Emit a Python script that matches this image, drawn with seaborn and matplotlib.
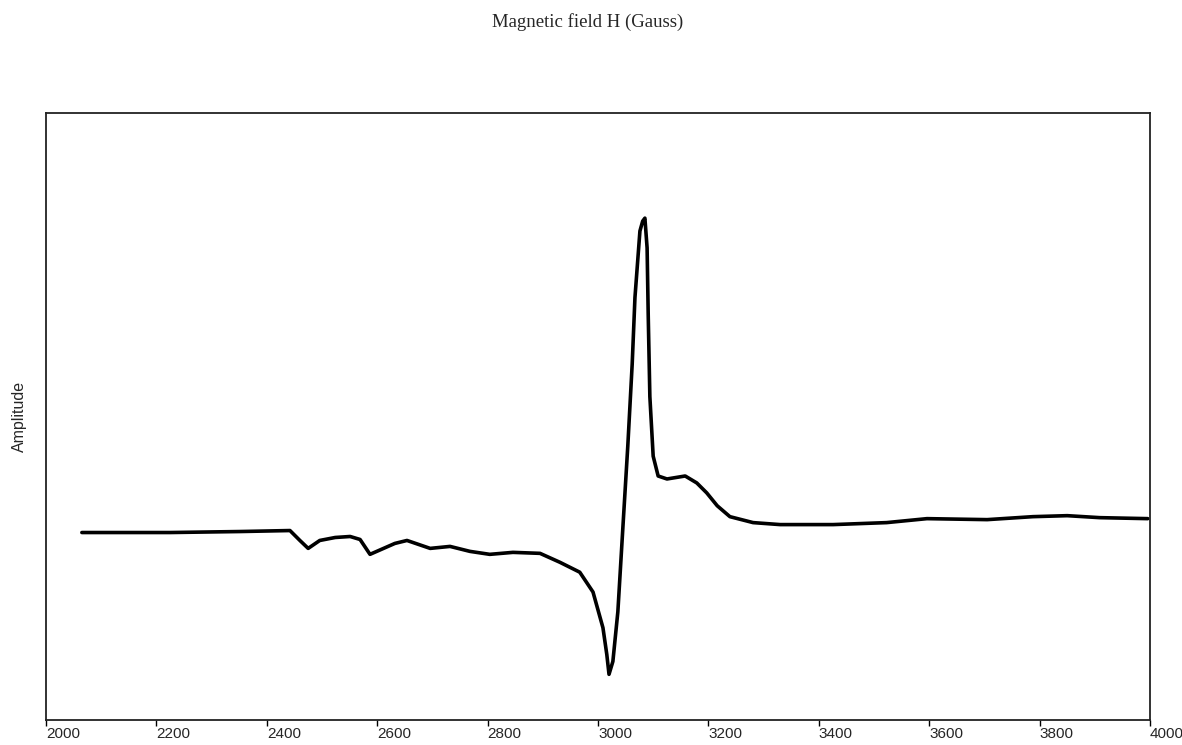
import numpy as np
import pandas as pd
import matplotlib
matplotlib.use("Agg")
import matplotlib.pyplot as plt
import matplotlib.transforms as mtransforms
import seaborn as sns

# EPR spectrum (field in Gauss, amplitude in arbitrary units)
field_gauss = [
    2065, 2225, 2351, 2442, 2460, 2475, 2496, 2524, 2551, 2569, 2587,
    2632, 2654, 2696, 2732, 2768, 2804, 2846, 2895, 2931, 2967, 2991,
    3009, 3016, 3020, 3027, 3036, 3045, 3054, 3062, 3067, 3076, 3081,
    3085, 3089, 3091, 3094, 3100, 3109, 3125, 3158, 3179, 3197, 3216,
    3239, 3281, 3330, 3426, 3523, 3596, 3705, 3788, 3850, 3909, 3996,
]
amplitude = [
    0, 0, 1, 2, -8, -16, -8, -5, -4, -7, -22,
    -11, -8, -16, -14, -19, -22, -20, -21, -30, -40, -60,
    -96, -123, -143, -130, -80, 4, 87, 170, 237, 304, 314,
    317, 287, 220, 137, 77, 57, 54, 57, 50, 40, 27,
    16, 10, 8, 8, 10, 14, 13, 16, 17, 15, 14,
]
x_ticks = [2000, 2200, 2400, 2600, 2800, 3000, 3200, 3400, 3600, 3800, 4000]

df = pd.DataFrame({"field": field_gauss, "amp": amplitude})

sns.set_style("white")
plt.rcParams["font.family"] = ["Liberation Sans", "DejaVu Sans"]

fig = plt.figure(figsize=(11.82, 7.45), dpi=100)
ax = fig.add_axes([0.0389, 0.0336, 0.934, 0.8147])

sns.lineplot(data=df, x="field", y="amp", ax=ax, color="black",
             linewidth=2.6, estimator=None, sort=False)

ax.set_xlim(2000, 4000)
ax.set_ylim(-189, 423)
ax.set_yticks([])
ax.set_xticks(x_ticks)
ax.set_xticklabels([str(t) for t in x_ticks], fontsize=11, ha="left")
offset = mtransforms.ScaledTranslation(-4 / 100, 0, fig.dpi_scale_trans)
for lbl in ax.get_xticklabels():
    lbl.set_transform(lbl.get_transform() + offset)
ax.tick_params(axis="x", direction="out", length=4, width=1, pad=1,
               color="black", bottom=True)

for side in ax.spines.values():
    side.set_visible(True)
    side.set_color("#222222")
    side.set_linewidth(1.3)

ax.set_xlabel("")
ax.set_ylabel("Amplitude", fontsize=11.5, labelpad=14)

fig.text(0.497, 0.97, "Magnetic field H (Gauss)", ha="center", va="center",
         fontsize=13.5, family="Liberation Serif")

fig.savefig("out.png", dpi=100)
